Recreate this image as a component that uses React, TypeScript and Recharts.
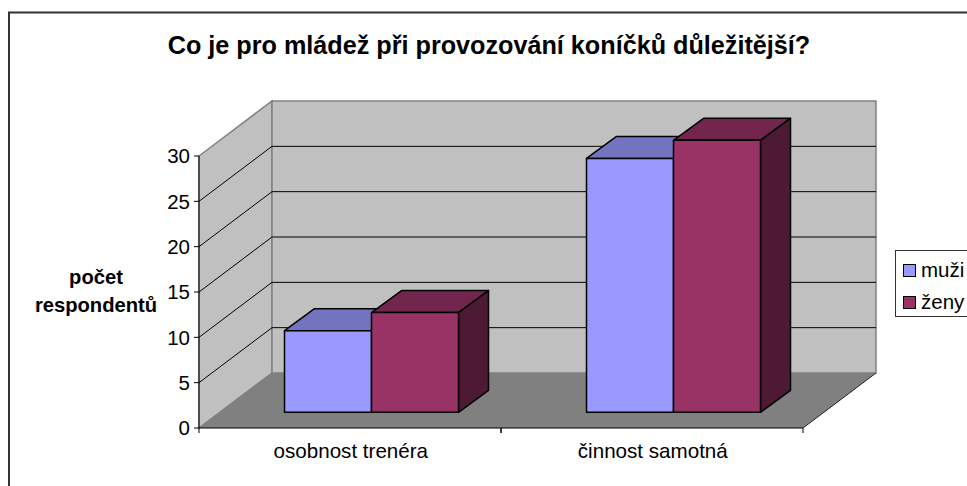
import React from "react";
import { BarChart, Bar, XAxis, YAxis, CartesianGrid, Customized, Legend } from "recharts";

const categories = ["osobnost trenéra", "činnost samotná"];
const muzi = [9, 28];
const zeny = [11, 30];
const yTicks = [0, 5, 10, 15, 20, 25, 30];
const titleText = "Co je pro mládež při provozování koníčků důležitější?";
const yLabelLines = ["počet", "respondentů"];
const seriesNames = { muzi: "muži", zeny: "ženy" };

const data = categories.map((c, i) => ({ name: c, muzi: muzi[i], zeny: zeny[i] }));

const W = 967;
const H = 486;
const FONT = "'Liberation Sans', Arial, sans-serif";
const PLOT = { left: 199, top: 156, right: 803, bottom: 428 };
const DEPTH = { x: 73, y: 55 };
const BAR_SHIFT = { x: 21.5, y: 15.7 };
const BAR_DEPTH = { x: 30, y: 22 };
const AXIS_W = 40;
const AXIS_H = 30;

function poly(points: number[][]) {
  return points.map((p) => p.join(",")).join(" ");
}

function Frame() {
  return (
    <g>
      <rect x={9} y={12.5} width={W} height={H} fill="none" stroke="#333" strokeWidth={2} />
      <text x={489} y={54} textAnchor="middle" fontFamily={FONT} fontWeight="bold" fontSize={25.2} fill="#000">
        {titleText}
      </text>
      <text textAnchor="middle" fontFamily={FONT} fontWeight="bold" fontSize={20.2} fill="#000">
        <tspan x={96} y={284}>{yLabelLines[0]}</tspan>
        <tspan x={96} y={311.5}>{yLabelLines[1]}</tspan>
      </text>
    </g>
  );
}

function Walls(props: any) {
  const { x1, y1 } = props;
  if (Math.abs(y1 - PLOT.top) > 1) return <g />;
  const { left, top, right, bottom } = PLOT;
  const dx = DEPTH.x;
  const dy = DEPTH.y;
  return (
    <g>
      <polygon
        points={poly([[left, top], [left + dx, top - dy], [left + dx, bottom - dy], [left, bottom]])}
        fill="#C0C0C0"
        stroke="#808080"
        strokeWidth={1.5}
      />
      <polygon
        points={poly([[left + dx, top - dy], [right + dx, top - dy], [right + dx, bottom - dy], [left + dx, bottom - dy]])}
        fill="#C0C0C0"
        stroke="#808080"
        strokeWidth={1.5}
      />
      <polygon
        points={poly([[left, bottom], [left + dx, bottom - dy], [right + dx, bottom - dy], [right, bottom]])}
        fill="#808080"
      />
      <line x1={x1} y1={bottom} x2={left + dx} y2={bottom - dy} stroke="#808080" strokeWidth={1} />
      <line x1={right} y1={bottom} x2={right + dx} y2={bottom - dy} stroke="#222" strokeWidth={1} />
    </g>
  );
}

function GridPair(props: any) {
  const { x1, x2, y1, y2 } = props;
  if (Math.abs(y1 - PLOT.bottom) < 1 || Math.abs(y1 - PLOT.top) < 1) return <g />;
  return (
    <g>
      <line x1={x1} y1={y1} x2={x1 + DEPTH.x} y2={y1 - DEPTH.y} stroke="#000" strokeWidth={1} />
      <line x1={x1 + DEPTH.x} y1={y2 - DEPTH.y} x2={x2 + DEPTH.x} y2={y2 - DEPTH.y} stroke="#000" strokeWidth={1} />
    </g>
  );
}

function Box3D(props: any) {
  const { x, y, width, height, front, topFace, side } = props;
  const fx = x + BAR_SHIFT.x;
  const fy = y - BAR_SHIFT.y;
  const dx = BAR_DEPTH.x;
  const dy = BAR_DEPTH.y;
  const edge = { stroke: "#000", strokeWidth: 1.5, strokeLinejoin: "round" as const };
  return (
    <g>
      <polygon
        points={poly([[fx, fy], [fx + dx, fy - dy], [fx + width + dx, fy - dy], [fx + width, fy]])}
        fill={topFace}
        {...edge}
      />
      <polygon
        points={poly([[fx + width, fy], [fx + width + dx, fy - dy], [fx + width + dx, fy + height - dy], [fx + width, fy + height]])}
        fill={side}
        {...edge}
      />
      <rect x={fx} y={fy} width={width} height={height} fill={front} {...edge} />
    </g>
  );
}

function CategoryTick(props: any) {
  const { x, payload } = props;
  const half = (PLOT.right - PLOT.left) / categories.length / 2;
  return (
    <g>
      <line x1={x - half} y1={PLOT.bottom} x2={x - half} y2={PLOT.bottom + 5} stroke="#000" />
      <line x1={x + half} y1={PLOT.bottom} x2={x + half} y2={PLOT.bottom + 5} stroke="#000" />
      <text x={x + 0.8} y={PLOT.bottom + 30} textAnchor="middle" fontFamily={FONT} fontSize={20.6} fill="#000">
        {payload.value}
      </text>
    </g>
  );
}

function LegendBox(props: any) {
  const items = props.payload || [];
  return (
    <div
      style={{
        width: 74,
        height: 67,
        boxSizing: "border-box",
        border: "1px solid #333",
        background: "#fff",
        fontFamily: FONT,
        fontSize: 20.5,
        color: "#000",
        paddingLeft: 7,
        paddingTop: 3,
      }}
    >
      {items.map((it: any) => (
        <div key={it.value} style={{ display: "flex", alignItems: "center", height: 32 }}>
          <span
            style={{
              width: 13,
              height: 13,
              boxSizing: "border-box",
              border: "1.5px solid #000",
              background: it.color,
              marginRight: 5,
              flex: "none",
            }}
          />
          <span>{it.value}</span>
        </div>
      ))}
    </div>
  );
}

export default function App() {
  return (
    <div style={{ position: "absolute", left: 0, top: 0, width: W, height: H, overflow: "hidden", background: "#fff" }}>
      <BarChart
        width={W}
        height={H}
        data={data}
        barSize={87}
        barGap={0}
        margin={{
          top: PLOT.top,
          left: PLOT.left - AXIS_W,
          right: W - PLOT.right,
          bottom: H - PLOT.bottom - AXIS_H,
        }}
      >
        <CartesianGrid vertical={false} horizontal={Walls as any} />
        <CartesianGrid vertical={false} horizontal={GridPair as any} />
        <Customized component={Frame} />
        <XAxis
          dataKey="name"
          height={AXIS_H}
          axisLine={{ stroke: "#000", strokeWidth: 1 }}
          tickLine={false}
          tick={CategoryTick as any}
          interval={0}
        />
        <YAxis
          width={AXIS_W}
          domain={[0, 30]}
          ticks={yTicks}
          interval={0}
          axisLine={{ stroke: "#000", strokeWidth: 1 }}
          tickLine={{ stroke: "#000" }}
          tickSize={5}
          tickMargin={4}
          tick={{ fontFamily: FONT, fontSize: 20.5, fill: "#000" }}
        />
        <Legend
          layout="vertical"
          align="center"
          verticalAlign="middle"
          content={LegendBox as any}
          wrapperStyle={{ position: "absolute", left: 895, top: 250, width: 74, height: 67 }}
        />
        <Bar
          dataKey="muzi"
          name={seriesNames.muzi}
          fill="#9999FF"
          isAnimationActive={false}
          shape={(p: any) => <Box3D {...p} front="#9999FF" topFace="#7373BF" side="#4D4D80" />}
        />
        <Bar
          dataKey="zeny"
          name={seriesNames.zeny}
          fill="#993366"
          isAnimationActive={false}
          shape={(p: any) => <Box3D {...p} front="#993366" topFace="#73264D" side="#4D1933" />}
        />
      </BarChart>
    </div>
  );
}
